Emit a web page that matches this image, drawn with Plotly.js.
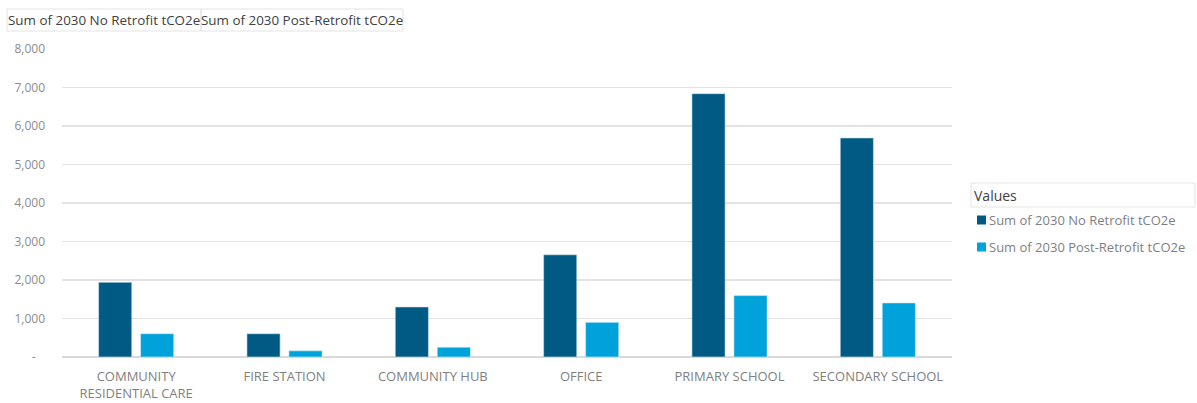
<!DOCTYPE html>
<html>
<head>
<meta charset="utf-8">
<script src="https://cdn.plot.ly/plotly-3.0.1.min.js"></script>
<style>
  html, body { margin: 0; padding: 0; background: #ffffff; }
  #chart { width: 1197px; height: 403px; }
</style>
</head>
<body>
<div id="chart"></div>
<script>
// ---- data ----
const categories = [
  "COMMUNITY RESIDENTIAL CARE",
  "FIRE STATION",
  "COMMUNITY HUB",
  "OFFICE",
  "PRIMARY SCHOOL",
  "SECONDARY SCHOOL"
];
const categoryLabels = [
  "COMMUNITY<br>RESIDENTIAL CARE",
  "FIRE STATION",
  "COMMUNITY HUB",
  "OFFICE",
  "PRIMARY SCHOOL",
  "SECONDARY SCHOOL"
];
const noRetrofit = [1940, 605, 1300, 2655, 6840, 5690];
const postRetrofit = [605, 160, 255, 900, 1595, 1405];
const seriesNames = ["Sum of 2030 No Retrofit tCO2e", "Sum of 2030 Post-Retrofit tCO2e"];
const yTickVals = [0, 1000, 2000, 3000, 4000, 5000, 6000, 7000, 8000];
const yTickText = ["-\u00a0\u00a0\u00a0", "1,000", "2,000", "3,000", "4,000", "5,000", "6,000", "7,000", "8,000"];

const FONT = "'Open Sans', 'Liberation Sans', sans-serif";
const seriesColors = ["#005a84", "#00a2db"];

const traces = [
  {
    type: "bar", x: categories, y: noRetrofit, name: seriesNames[0],
    marker: { color: seriesColors[0], line: { color: "#d6e4ee", width: 0.6 } },
    hoverinfo: "x+y+name"
  },
  {
    type: "bar", x: categories, y: postRetrofit, name: seriesNames[1],
    marker: { color: seriesColors[1], line: { color: "#d6eef8", width: 0.6 } },
    hoverinfo: "x+y+name"
  }
];

// pixel -> paper helpers (plot area: x 62..952, y 49..357)
const L = 62, R = 952, T = 49, B = 357;
const px = v => (v - L) / (R - L);
const py = v => (B - v) / (B - T);

const shapes = [
  { type: "rect", xref: "paper", yref: "paper", x0: px(7), x1: px(201), y0: py(31), y1: py(9),
    line: { color: "#e3e3e3", width: 1 }, fillcolor: "rgba(0,0,0,0)" },
  { type: "rect", xref: "paper", yref: "paper", x0: px(201), x1: px(403), y0: py(31), y1: py(9),
    line: { color: "#e3e3e3", width: 1 }, fillcolor: "rgba(0,0,0,0)" },
  { type: "rect", xref: "paper", yref: "paper", x0: px(971), x1: px(1195), y0: py(207), y1: py(183),
    line: { color: "#e3e3e3", width: 1 }, fillcolor: "rgba(0,0,0,0)" }
];
const annotations = [
  { xref: "paper", yref: "paper", x: px(104), y: py(20), xanchor: "center", yanchor: "middle",
    text: seriesNames[0], showarrow: false, font: { family: FONT, size: 13.4, color: "#404040" } },
  { xref: "paper", yref: "paper", x: px(302), y: py(20), xanchor: "center", yanchor: "middle",
    text: seriesNames[1], showarrow: false, font: { family: FONT, size: 13.4, color: "#404040" } },
  { xref: "paper", yref: "paper", x: px(972), y: py(195), xanchor: "left", yanchor: "middle",
    text: "Values", showarrow: false, font: { family: FONT, size: 14, color: "#404040" } }
];
// custom legend entries
const legendY = [220, 247];
seriesNames.forEach((name, i) => {
  shapes.push({ type: "rect", xref: "paper", yref: "paper",
    x0: px(977), x1: px(986), y0: py(legendY[i] + 4.5), y1: py(legendY[i] - 4.5),
    line: { width: 0 }, fillcolor: seriesColors[i] });
  annotations.push({ xref: "paper", yref: "paper", x: px(987), y: py(legendY[i]),
    xanchor: "left", yanchor: "middle", text: name, showarrow: false,
    font: { family: FONT, size: 13, color: "#7f7f7f" } });
});

const layout = {
  width: 1197, height: 403,
  margin: { l: L, r: 1197 - R, t: T, b: 403 - B, pad: 0, autoexpand: false },
  paper_bgcolor: "#ffffff", plot_bgcolor: "#ffffff",
  font: { family: FONT, size: 12, color: "#7f7f7f" },
  barmode: "group",
  bargap: 0.434,
  bargroupgap: 0.21,
  showlegend: false,
  xaxis: {
    type: "category",
    tickvals: categories, ticktext: categoryLabels,
    showgrid: false, zeroline: false, showline: false,
    ticks: "", ticklabelstandoff: 10,
    tickfont: { family: FONT, size: 13, color: "#7f7f7f" },
    fixedrange: true, automargin: false
  },
  yaxis: {
    range: [0, 8000],
    tickvals: yTickVals, ticktext: yTickText,
    showgrid: true, gridcolor: "#e3e3e3", gridwidth: 1.5,
    zeroline: true, zerolinecolor: "#d9d9d9", zerolinewidth: 2,
    showline: false, ticks: "",
    ticklabelstandoff: 16,
    tickfont: { family: FONT, size: 12, color: "#8c8c8c" },
    fixedrange: true, automargin: false
  },
  shapes: shapes,
  annotations: annotations
};

Plotly.newPlot("chart", traces, layout, { displayModeBar: false, staticPlot: true });
</script>
</body>
</html>
